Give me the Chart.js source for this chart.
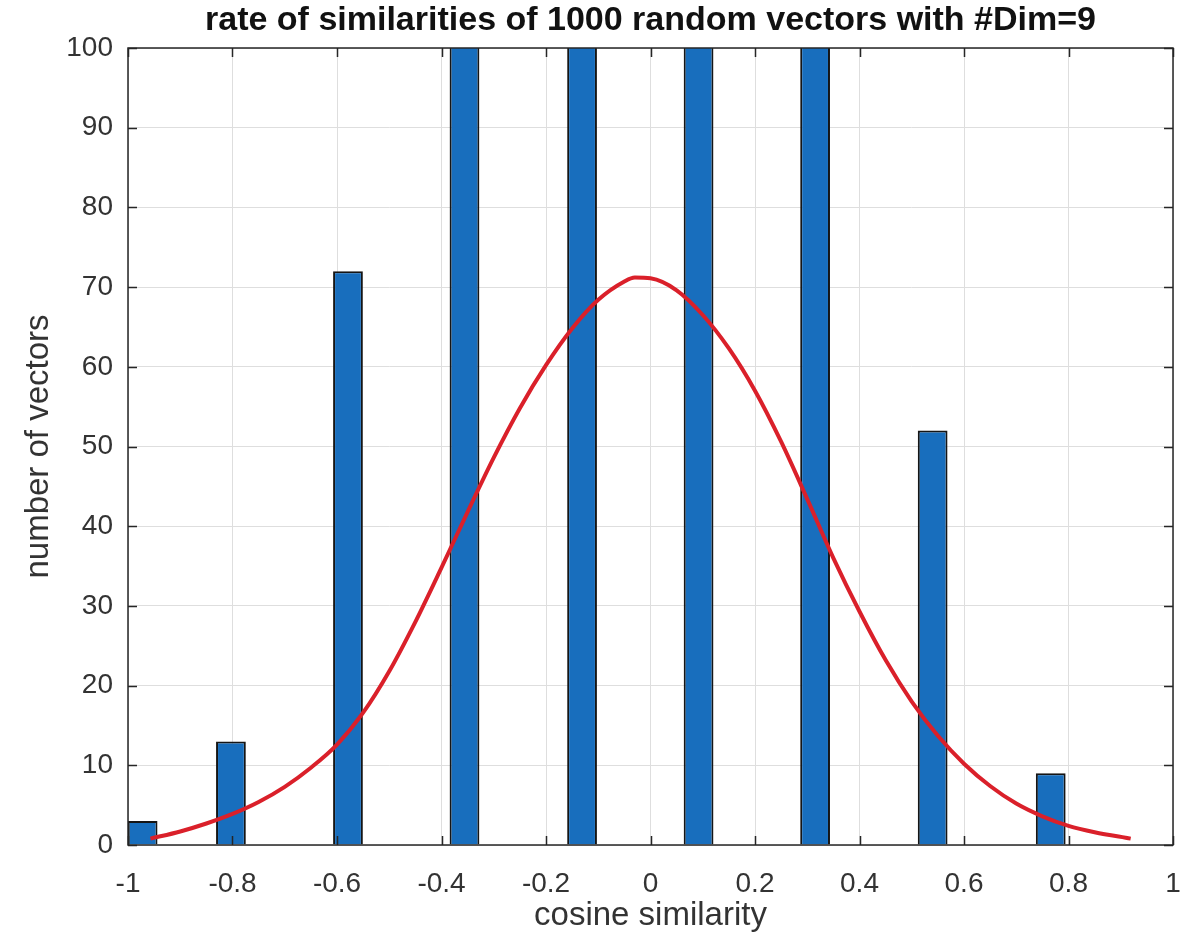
<!DOCTYPE html>
<html>
<head>
<meta charset="utf-8">
<title>rate of similarities</title>
<script src="https://cdn.jsdelivr.net/npm/chart.js@4.4.1/dist/chart.umd.min.js"></script>
<style>
  html, body { margin: 0; padding: 0; background: #ffffff; }
  #chart { display: block; }
</style>
</head>
<body>
<canvas id="chart" width="1192" height="939"></canvas>
<script>
// histogram bins (centres)
const binCenters = [-0.972, -0.803, -0.579, -0.356, -0.131, 0.092, 0.315, 0.540, 0.766];
// counts; the four middle bars run off the top of the axes, so those are estimates
const binCounts = [3, 13, 72, 205, 222, 226, 198, 52, 9];
const binWidth = 0.057;

// red fitted curve
const fitX = [-0.957, -0.9, -0.85, -0.8, -0.75, -0.7, -0.65, -0.6, -0.55, -0.5, -0.45, -0.4, -0.35, -0.3, -0.25, -0.2, -0.15, -0.1, -0.05, -0.03, 0, 0.05, 0.1, 0.15, 0.2, 0.25, 0.3, 0.35, 0.4, 0.45, 0.5, 0.55, 0.6, 0.65, 0.7, 0.75, 0.8, 0.85, 0.919];
const fitY = [0.8, 1.7, 2.7, 3.9, 5.4, 7.3, 9.7, 12.6, 16.6, 21.8, 28.0, 34.8, 41.8, 48.6, 54.8, 60.2, 64.8, 68.4, 70.7, 71.2, 71.1, 69.6, 66.5, 62.3, 57.0, 50.6, 43.4, 36.0, 29.3, 23.2, 18.0, 13.7, 10.2, 7.4, 5.2, 3.6, 2.4, 1.6, 0.8];

// tick labels
const xTicks = [-1, -0.8, -0.6, -0.4, -0.2, 0, 0.2, 0.4, 0.6, 0.8, 1];
const xTickLabels = ['-1', '-0.8', '-0.6', '-0.4', '-0.2', '0', '0.2', '0.4', '0.6', '0.8', '1'];
const yTicks = [0, 10, 20, 30, 40, 50, 60, 70, 80, 90, 100];

const titleText = 'rate of similarities of 1000 random vectors with #Dim=9';
const fontFamily = '"Liberation Sans", Arial, Helvetica, sans-serif';
const textColor = '#333333';

// bar width: chart.js sizes bars from the smallest gap between bars or ticks
function smallestGap() {
    let gap = xTicks[1] - xTicks[0];
    for (let i = 1; i < binCenters.length; i++) {
        gap = Math.min(gap, binCenters[i] - binCenters[i - 1]);
    }
    return gap;
}

// box round the axes with inward ticks, and the title centred over the axes
const boxPlugin = {
    id: 'axesBox',
    afterDatasetsDraw(chart) {
        const ctx = chart.ctx;
        const a = chart.chartArea;
        const x = chart.scales.x;
        const y = chart.scales.y;
        const tick = 9;
        ctx.save();
        ctx.strokeStyle = '#262626';
        ctx.lineWidth = 1.5;
        ctx.beginPath();
        x.ticks.forEach(t => {
            const px = Math.round(x.getPixelForValue(t.value)) + 0.5;
            ctx.moveTo(px, a.bottom); ctx.lineTo(px, a.bottom - tick);
            ctx.moveTo(px, a.top); ctx.lineTo(px, a.top + tick);
        });
        y.ticks.forEach(t => {
            const py = Math.round(y.getPixelForValue(t.value)) + 0.5;
            ctx.moveTo(a.left, py); ctx.lineTo(a.left + tick, py);
            ctx.moveTo(a.right, py); ctx.lineTo(a.right - tick, py);
        });
        ctx.stroke();
        ctx.strokeRect(a.left, a.top, a.right - a.left, a.bottom - a.top);

        ctx.fillStyle = '#111111';
        ctx.font = 'bold 34px ' + fontFamily;
        ctx.textAlign = 'center';
        ctx.textBaseline = 'middle';
        ctx.fillText(titleText, (a.left + a.right) / 2, 21);
        ctx.restore();
    }
};

const ctx = document.getElementById('chart').getContext('2d');

const chart = new Chart(ctx, {
    type: 'bar',
    data: {
        datasets: [{
            type: 'line',
            label: 'fit',
            data: fitX.map((v, i) => ({ x: v, y: fitY[i] })),
            borderColor: 'rgb(218, 32, 42)',
            borderWidth: 4,
            pointRadius: 0,
            cubicInterpolationMode: 'monotone',
            fill: false,
            order: 0
        }, {
            type: 'bar',
            label: 'counts',
            data: binCenters.map((v, i) => ({ x: v, y: binCounts[i] })),
            backgroundColor: 'rgb(24, 110, 189)',
            borderColor: '#151515',
            borderWidth: 2,
            categoryPercentage: 1,
            barPercentage: binWidth / smallestGap(),
            order: 1
        }]
    },
    options: {
        responsive: false,
        animation: false,
        layout: {
            padding: { left: 0, right: 19, top: 48, bottom: 0 }
        },
        plugins: {
            legend: { display: false },
            tooltip: { enabled: false },
            title: { display: false }
        },
        scales: {
            x: {
                type: 'linear',
                min: -1,
                max: 1,
                offset: false,
                afterBuildTicks: scale => { scale.ticks = xTicks.map(v => ({ value: v })); },
                afterFit: scale => {
                    scale.height = 94;
                    scale.paddingLeft = 0;
                    scale.paddingRight = 0;
                },
                grid: { color: '#dedede', lineWidth: 1, drawTicks: false, offset: false },
                border: { display: false },
                ticks: {
                    color: textColor,
                    padding: 22,
                    maxRotation: 0,
                    autoSkip: false,
                    callback: (value, index) => xTickLabels[index],
                    font: { family: fontFamily, size: 28 }
                },
                title: {
                    display: true,
                    text: 'cosine similarity',
                    color: textColor,
                    padding: { top: 0, bottom: 3 },
                    font: { family: fontFamily, size: 33 }
                }
            },
            y: {
                min: 0,
                max: 100,
                afterBuildTicks: scale => { scale.ticks = yTicks.map(v => ({ value: v })); },
                afterFit: scale => { scale.width = 128; },
                grid: { color: '#dedede', lineWidth: 1, drawTicks: false },
                border: { display: false },
                ticks: {
                    color: textColor,
                    padding: 15,
                    autoSkip: false,
                    font: { family: fontFamily, size: 28 }
                },
                title: {
                    display: true,
                    text: 'number of vectors',
                    color: textColor,
                    padding: { top: 19, bottom: 0 },
                    font: { family: fontFamily, size: 33 }
                }
            }
        }
    },
    plugins: [boxPlugin]
});
</script>
</body>
</html>
